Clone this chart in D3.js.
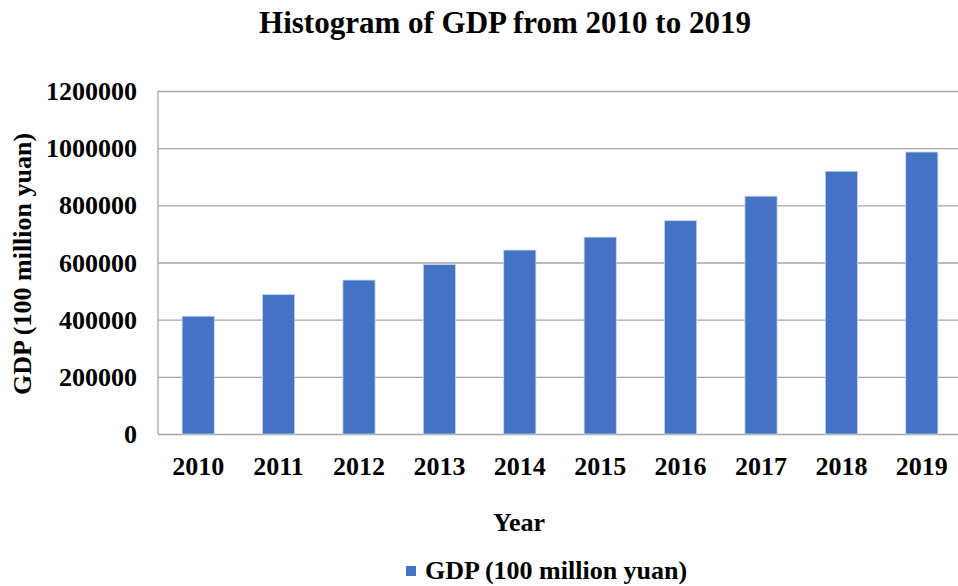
<!DOCTYPE html>
<html>
<head>
<meta charset="utf-8">
<script src="https://cdn.jsdelivr.net/npm/d3@7"></script>
<style>
  body { margin: 0; background: #fff; }
  text { font-family: "Liberation Serif", "Times New Roman", serif; font-weight: bold; fill: #000; }
</style>
</head>
<body>
<div id="chart"></div>
<script>
// data
var years = ['2010', '2011', '2012', '2013', '2014', '2015', '2016', '2017', '2018', '2019'];
var gdp = [412119, 487940, 538580, 592963, 643563, 688858, 746395, 832036, 919281, 986515];
var yTicks = [0, 200000, 400000, 600000, 800000, 1000000, 1200000];

var svgWidth = 958;
var svgHeight = 586;

// plot area (right edge runs past the picture in the original)
var margin = { top: 91, left: 158, bottom: 434, right: 962 };

var svg = d3.select('#chart')
  .append('svg')
  .attr('width', svgWidth)
  .attr('height', svgHeight);

var x = d3.scaleBand()
  .domain(years)
  .range([margin.left, margin.right])
  .paddingInner(0.6)
  .paddingOuter(0.3);

var y = d3.scaleLinear()
  .domain([0, 1200000])
  .range([margin.bottom, margin.top]);

// gridlines
svg.append('g')
  .attr('transform', `translate(${margin.left}, 0)`)
  .call(d3.axisLeft(y).tickValues(yTicks).tickSize(-(margin.right - margin.left)).tickFormat(''))
  .call(g => g.select('.domain').remove())
  .call(g => g.selectAll('line').attr('stroke', '#a6a6a6').attr('stroke-width', 1.3));

// left axis line
svg.append('line')
  .attr('x1', margin.left).attr('x2', margin.left)
  .attr('y1', margin.top).attr('y2', margin.bottom)
  .attr('stroke', '#a6a6a6').attr('stroke-width', 1.3);

// bars
svg.selectAll('rect.bar')
  .data(gdp)
  .enter()
  .append('rect')
  .attr('class', 'bar')
  .attr('x', (d, i) => x(years[i]))
  .attr('y', d => y(d))
  .attr('width', x.bandwidth())
  .attr('height', d => y(0) - y(d))
  .attr('fill', '#4472c4')
  .attr('stroke', '#c9d6ee')
  .attr('stroke-width', 0.8);

// y tick labels
svg.append('g')
  .selectAll('text')
  .data(yTicks)
  .enter()
  .append('text')
  .attr('x', 137)
  .attr('y', d => y(d) + 9)
  .attr('text-anchor', 'end')
  .style('font-size', '26px')
  .text(d => d);

// x tick labels
svg.append('g')
  .selectAll('text')
  .data(years)
  .enter()
  .append('text')
  .attr('x', d => x(d) + x.bandwidth() / 2)
  .attr('y', 475)
  .attr('text-anchor', 'middle')
  .style('font-size', '26px')
  .text(d => d);

// title
svg.append('text')
  .attr('x', 505)
  .attr('y', 33)
  .attr('text-anchor', 'middle')
  .style('font-size', '31px')
  .text('Histogram of GDP from 2010 to 2019');

// axis titles
svg.append('text')
  .attr('x', 519)
  .attr('y', 531)
  .attr('text-anchor', 'middle')
  .style('font-size', '26px')
  .text('Year');

svg.append('text')
  .attr('transform', 'translate(31, 264) rotate(-90)')
  .attr('text-anchor', 'middle')
  .style('font-size', '26px')
  .text('GDP (100 million yuan)');

// legend
var legend = svg.append('g').attr('transform', 'translate(406, 566)');
legend.append('rect')
  .attr('width', 10).attr('height', 10)
  .attr('fill', '#4472c4');
legend.append('text')
  .attr('x', 19)
  .attr('y', 13)
  .style('font-size', '26px')
  .text('GDP (100 million yuan)');
</script>
</body>
</html>
